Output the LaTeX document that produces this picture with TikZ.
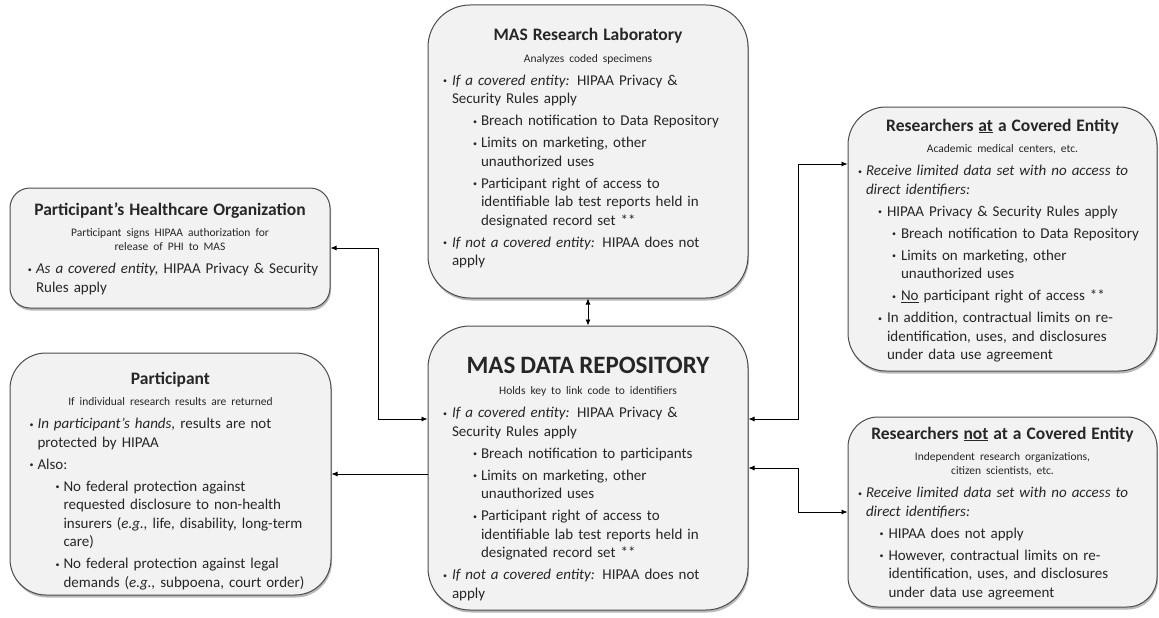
\documentclass[tikz,border=0pt]{standalone}
\usepackage{fontspec}
\setmainfont{Carlito}
\usetikzlibrary{positioning,arrows.meta,shadows}

\newcommand{\bul}{\raisebox{1.5pt}{\fontsize{8}{8}\selectfont\textbullet}}
\newcommand{\itm}[2]{\par\hangindent=#2pt\hangafter=1\noindent\hspace*{#1pt}\makebox[\dimexpr #2pt-#1pt\relax][l]{\bul}}
\newcommand{\ttl}[2][17.5]{{\centering\fontsize{#1}{#1}\selectfont\bfseries #2\par}\vspace{4pt}}
\newcommand{\subttl}[1]{{\centering\fontsize{11.5}{14}\selectfont #1\par}\vspace{1pt}}

\begin{document}
\begin{tikzpicture}
[x=1pt, y=-1pt, font=\fontsize{15}{18.5}\selectfont, text=black!85,
 panel/.style={draw=black!70, line width=1pt, fill=black!5, rounded corners=#1,
   drop shadow={shadow xshift=1pt, shadow yshift=-2.5pt, fill=black!55, opacity=.5}},
 txt/.style={inner sep=0pt, text width=310pt, align=left,
   execute at begin node=\setlength{\parskip}{3.5pt}},
 link/.style={-{Latex[length=6pt,width=5pt]}, line width=0.8pt},
 both/.style={{Latex[length=6pt,width=5pt]}-{Latex[length=6pt,width=5pt]}, line width=0.8pt}]
\useasboundingbox (0,0) rectangle (1159,618);

% boxes
\node[panel=20pt, minimum width=320pt, minimum height=120pt] (hco) at (170,248) {};
\node[panel=36pt, minimum width=321pt, minimum height=242pt] (part) at (170.5,474) {};
\node[panel=42pt, minimum width=320pt, minimum height=293pt] (lab) at (588,151.5) {};
\node[panel=42pt, minimum width=320pt, minimum height=284pt] (repo) at (588,468) {};
\node[panel=38pt, minimum width=309pt, minimum height=264pt] (rce) at (1002.5,239) {};
\node[panel=30pt, minimum width=309pt, minimum height=190pt] (rnce) at (1002.5,512) {};

% texts
\node[txt, below=15pt of hco.north] (hcotext) {%
\ttl{Participant’s Healthcare Organization}
\subttl{Participant signs HIPAA authorization for\\ release of PHI to MAS}
\itm{13}{21}\textit{As a covered entity,} HIPAA Privacy \& Security\newline Rules apply\par};

\node[txt, below=19pt of part.north] (parttext) {%
\ttl{Participant}
\subttl{If individual research results are returned}
\itm{14}{22}\textit{In participant’s hands,} results are not\newline protected by HIPAA
\itm{14}{22}Also:
\itm{40}{48}No federal protection against\newline requested disclosure to non-health\newline insurers (\textit{e.g.,} life, disability, long-term\newline care)
\itm{40}{48}No federal protection against legal\newline demands (\textit{e.g.,} subpoena, court order)\par};

\node[txt, below=24pt of lab.north] (labtext) {%
\ttl{MAS Research Laboratory}
\subttl{Analyzes coded specimens}
\itm{10}{19}\textit{If a covered entity:} HIPAA Privacy \&\newline Security Rules apply
\itm{40}{48}Breach notification to Data Repository
\itm{40}{48}Limits on marketing, other\newline unauthorized uses
\itm{40}{48}Participant right of access to\newline identifiable lab test reports held in\newline designated record set **
\itm{10}{19}\textit{If not a covered entity:} HIPAA does not\newline apply\par};

\node[txt, below=31pt of repo.north] (repotext) {%
\ttl[25]{MAS DATA REPOSITORY}
\subttl{Holds key to link code to identifiers}
\itm{10}{19}\textit{If a covered entity:} HIPAA Privacy \&\newline Security Rules apply
\itm{40}{48}Breach notification to participants
\itm{40}{48}Limits on marketing, other\newline unauthorized uses
\itm{40}{48}Participant right of access to\newline identifiable lab test reports held in\newline designated record set **
\itm{10}{19}\textit{If not a covered entity:} HIPAA does not\newline apply\par};

\node[txt, below=12pt of rce.north] (rcetext) {%
\ttl{Researchers \underline{at} a Covered Entity}
\subttl{Academic medical centers, etc.}
\itm{10.5}{18.5}\textit{Receive limited data set with no access to\newline direct identifiers:}
\itm{30.5}{39.5}HIPAA Privacy \& Security Rules apply
\itm{44.5}{53.5}Breach notification to Data Repository
\itm{44.5}{53.5}Limits on marketing, other\newline unauthorized uses
\itm{44.5}{53.5}\underline{No} participant right of access **
\itm{30.5}{39.5}In addition, contractual limits on re-\newline identification, uses, and disclosures\newline under data use agreement\par};

\node[txt, below=10pt of rnce.north] (rncetext) {%
\ttl{Researchers \underline{not} at a Covered Entity}
\subttl{Independent research organizations,\\ citizen scientists, etc.}
\itm{10.5}{18.5}\textit{Receive limited data set with no access to\newline direct identifiers:}
\itm{32}{41}HIPAA does not apply
\itm{32}{41}However, contractual limits on re-\newline identification, uses, and disclosures\newline under data use agreement\par};

% connectors
\draw[both] (hco.east) -- ++(48,0) |- ([yshift=49pt]repo.west);
\draw[link] (repo.west |- part.east) -- (part.east);
\draw[both] (lab.south) -- (repo.north);
\draw[both] ([yshift=49pt]repo.east) -- ++(50,0) |- ([yshift=75pt]rce.west);
\draw[both] (repo.east) -- ++(50,0) |- (rnce.west);
\end{tikzpicture}
\end{document}
